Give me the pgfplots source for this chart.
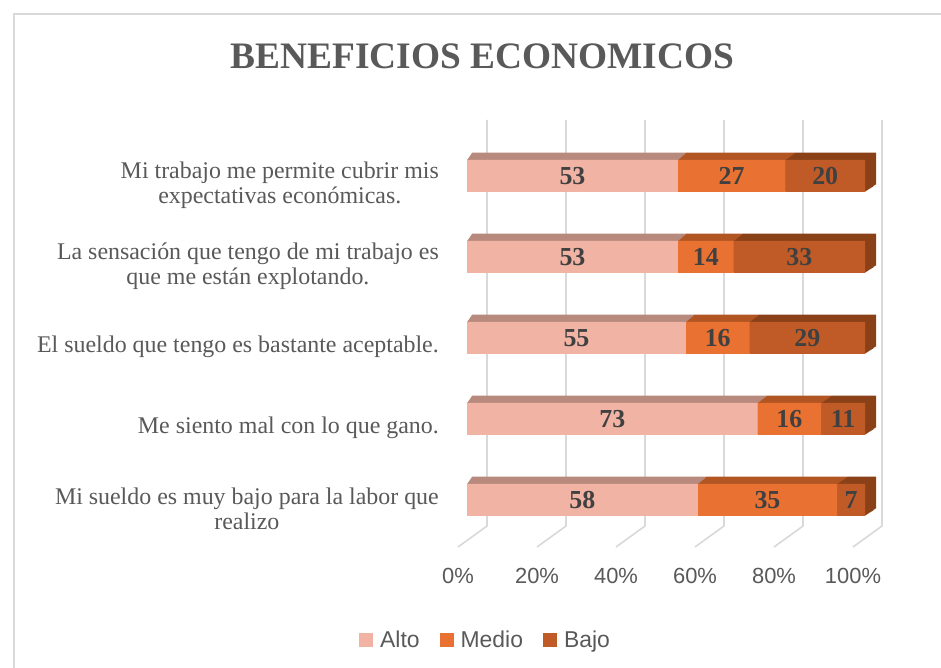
\documentclass[border=0pt]{standalone}
\usepackage{pgfplots}
\pgfplotsset{compat=1.18}
\usepackage{pgfplotstable}
\usepackage{fontspec}
\setmainfont{Liberation Serif}
\setsansfont{Liberation Sans}

\definecolor{titlegray}{HTML}{595959}
\definecolor{labgray}{HTML}{595959}
\definecolor{ticklab}{HTML}{595959}
\definecolor{barlab}{HTML}{404040}
\definecolor{gridcol}{HTML}{D9D9D9}
\definecolor{alto}{HTML}{F1B3A4}
\definecolor{medio}{HTML}{E97132}
\definecolor{bajo}{HTML}{C05A27}
\definecolor{altotop}{HTML}{B88A7D}
\definecolor{mediotop}{HTML}{B15522}
\definecolor{bajotop}{HTML}{8A4117}

\pgfplotstableread{
y alto medio bajo
0 58 35 7
1 73 16 11
2 55 16 29
3 53 14 33
4 53 27 20
}\datatable

\pgfplotstableread{
x y lab
29 0 58
75.5 0 35
96.5 0 7
36.5 1 73
81 1 16
94.5 1 11
27.5 2 55
63 2 16
85.5 2 29
26.5 3 53
60 3 14
83.5 3 33
26.5 4 53
66.5 4 27
90 4 20
}\labeltable

\pgfplotsset{
  barbase/.style={anchor=south west, scale only axis, height=405bp,
    xmin=0, xmax=100, ymin=-0.5, ymax=4.5,
    axis line style={draw=none}, xtick=\empty, ytick=\empty,
    major tick length=0pt, clip=false},
}

\begin{document}
\begin{tikzpicture}
\useasboundingbox (0,0) rectangle (941bp,668bp);
\fill[white] (0,0) rectangle (941bp,668bp);
\draw[gridcol, line width=1.5bp] (14bp,0) -- (14bp,654bp) -- (941bp,654bp);
\node[anchor=base, text=titlegray, font=\bfseries\fontsize{37.5}{40}\selectfont] at (482.5bp,599bp) {BENEFICIOS ECONOMICOS};

% back wall gridlines and floor
\begin{axis}[anchor=south west, at={(487bp,121bp)}, scale only axis,
  width=395bp, height=427bp, xmin=0, xmax=100, ymin=-21, ymax=406,
  axis line style={draw=none}, clip=false, ytick=\empty,
  xtick={0,20,40,60,80,100},
  xticklabels={0\%,20\%,40\%,60\%,80\%,100\%},
  major tick length=0pt,
  xticklabel style={anchor=center, xshift=-29bp, yshift=-29bp,
    font=\sffamily\fontsize{22}{22}\selectfont, text=ticklab},
  unbounded coords=jump]
\addplot[gridcol, line width=1.6bp] coordinates {
(0,406) (0,0) (-7.34,-21) (nan,nan)
(20,406) (20,0) (12.66,-21) (nan,nan)
(40,406) (40,0) (32.66,-21) (nan,nan)
(60,406) (60,0) (52.66,-21) (nan,nan)
(80,406) (80,0) (72.66,-21) (nan,nan)
(100,406) (100,0) (92.66,-21)};
\end{axis}

% 3D extrusion (top and side faces)
\foreach \k in {14,13,...,1}{
  \pgfmathsetmacro\ax{467+5*\k/14}
  \pgfmathsetmacro\ay{127.5+7.3*\k/14}
  \pgfmathsetmacro\aw{398+6*\k/14}
  \begin{axis}[barbase, at={(\ax bp,\ay bp)}, width=\aw bp,
    xbar stacked, bar width=32bp]
    \addplot[fill=altotop, draw=none] table[x=alto,y=y]{\datatable};
    \addplot[fill=mediotop, draw=none] table[x=medio,y=y]{\datatable};
    \addplot[fill=bajotop, draw=none] table[x=bajo,y=y]{\datatable};
  \end{axis}
}

% front faces
\begin{axis}[barbase, at={(467bp,127.5bp)}, width=398bp,
  xbar stacked, bar width=32bp,
  ytick={0,1,2,3,4},
  yticklabels={{Mi sueldo es muy bajo para la labor que\\realizo},
    {Me siento mal con lo que gano.},
    {El sueldo que tengo es bastante aceptable.},
    {La sensación que tengo de mi trabajo es\\que me están explotando.},
    {Mi trabajo me permite cubrir mis\\expectativas económicas.}},
  yticklabel style={anchor=east, inner sep=0pt, xshift=-28bp, yshift=-9bp,
    align=center, font=\fontsize{24}{25}\selectfont, text=labgray},
  legend columns=3,
  legend style={at={(0.0465,-0.2457)}, anchor=center, draw=none, fill=none,
    font=\sffamily\fontsize{23}{23}\selectfont, text=ticklab,
    /tikz/every odd column/.append style={column sep=5bp},
    /tikz/every even column/.append style={column sep=18bp}},
  legend image code/.code={\fill[#1] (0bp,-7bp) rectangle (14bp,7bp);}]
  \addplot[fill=alto, draw=none] table[x=alto,y=y]{\datatable};
  \addlegendentry{Alto}
  \addplot[fill=medio, draw=none] table[x=medio,y=y]{\datatable};
  \addlegendentry{Medio}
  \addplot[fill=bajo, draw=none] table[x=bajo,y=y]{\datatable};
  \addlegendentry{Bajo}
\end{axis}

% value labels
\begin{axis}[barbase, at={(467bp,127.5bp)}, width=398bp]
  \addplot[only marks, mark=none, nodes near coords,
    point meta=explicit symbolic,
    every node near coord/.append style={anchor=center,
      font=\bfseries\fontsize{26}{26}\selectfont, text=barlab}]
    table[x=x,y=y,meta=lab]{\labeltable};
\end{axis}
\end{tikzpicture}
\end{document}
